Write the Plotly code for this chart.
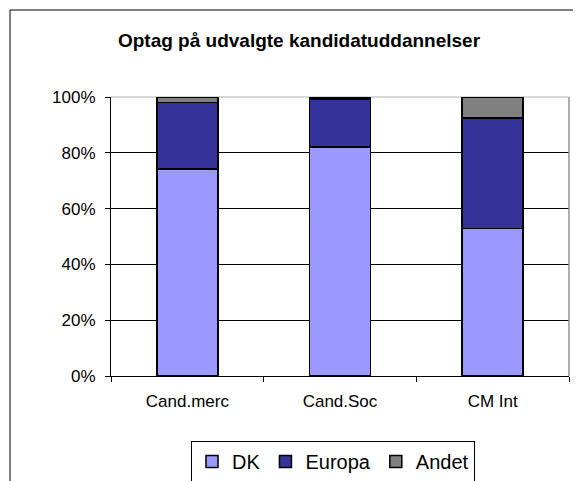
import plotly.graph_objects as go

categories = ["Cand.merc", "Cand.Soc", "CM Int"]
dk = [0.742, 0.821, 0.528]
europa = [0.238, 0.172, 0.397]
andet = [0.020, 0.007, 0.075]

series_names = ["DK", "Europa", "Andet"]
series_colors = ["#9999FF", "#333399", "#808080"]
title_text = "Optag på udvalgte kandidatuddannelser"

FONT = "Liberation Sans, Arial, sans-serif"

fig = go.Figure()
for name, vals, col in zip(series_names, [dk, europa, andet], series_colors):
    fig.add_trace(go.Bar(
        x=categories, y=vals, name=name,
        marker=dict(color=col, line=dict(color="black", width=1.5)),
        width=0.4,
    ))

# page body has an 8px margin; figure coordinates are page - 8
W, H = 573, 473
L, R, T, B = 103, 12, 89, 105
pw, ph = W - L - R, H - T - B

def px(x):
    return (x - L) / pw

def py(y):
    return (H - B - y) / ph

fig.update_layout(
    width=W, height=H,
    margin=dict(l=L, r=R, t=T, b=B, autoexpand=False),
    barmode="stack",
    paper_bgcolor="white",
    plot_bgcolor="white",
    font=dict(family=FONT, color="black", size=17),
    title=dict(
        text="<b>" + title_text + "</b>",
        x=291 / W, xanchor="center",
        y=1 - 32 / H, yanchor="middle", yref="container",
        font=dict(family=FONT, size=19, color="black"),
    ),
    showlegend=True,
    legend=dict(
        orientation="h",
        x=px(183), xanchor="left",
        y=py(433), yanchor="top",
        bordercolor="black", borderwidth=1,
        font=dict(family=FONT, size=20, color="black"),
        bgcolor="white",
        traceorder="normal",
    ),
    xaxis=dict(
        showline=True, linecolor="black", linewidth=1,
        ticks="outside", ticklen=5, tickcolor="black",
        tickson="boundaries",
        showgrid=False,
        ticklabelstandoff=10,
        tickfont=dict(family=FONT, size=17, color="black"),
    ),
    yaxis=dict(
        range=[0, 1],
        dtick=0.2, tickformat=".0%",
        showline=True, linecolor="black", linewidth=1,
        ticks="outside", ticklen=5, tickcolor="black",
        showgrid=True, gridcolor="black", gridwidth=1,
        zeroline=False,
        ticklabelstandoff=6,
        tickfont=dict(family=FONT, size=17, color="black"),
    ),
    shapes=[
        # outer chart border
        dict(type="rect", xref="paper", yref="paper",
             x0=px(2), x1=px(600), y0=py(500), y1=py(2),
             line=dict(color="black", width=1), layer="below"),
        # plot area right & top border
        dict(type="line", xref="paper", yref="paper",
             x0=1, x1=1, y0=0, y1=1, line=dict(color="#909090", width=1.5), layer="above"),
        dict(type="line", xref="paper", yref="paper",
             x0=0, x1=1, y0=1, y1=1, line=dict(color="#b0b0b0", width=1), layer="below"),
    ],
)

fig.write_html("out.html")
